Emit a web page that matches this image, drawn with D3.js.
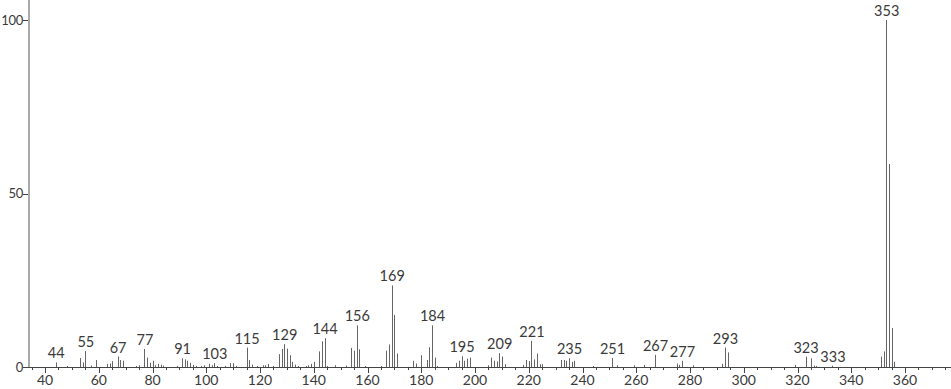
<!DOCTYPE html>
<html>
<head>
<meta charset="utf-8">
<script src="https://cdn.jsdelivr.net/npm/d3@7"></script>
<style>
  html, body { margin: 0; padding: 0; background: #fff; }
  svg { display: block; }
  text { font-family: Lato, "Noto Sans", sans-serif; fill: #3a3a3a; }
</style>
</head>
<body>
<div id="chart"></div>
<script>
// m/z values and relative intensities
const mz = [44, 48, 53, 54, 55, 57, 59, 63, 64, 65, 67, 68, 69, 74, 75, 77, 78, 79, 80, 81, 82, 83, 84, 89,
    91, 92, 93, 94, 95, 96, 98, 99, 101, 102, 103, 104, 107, 109, 110, 111, 115, 116, 117, 119, 121, 122, 123, 125,
    127, 128, 129, 130, 131, 132, 133, 134, 137, 138, 139, 140, 142, 143, 144, 145, 148, 152, 154, 155, 156, 157, 159,
    165, 167, 168, 169, 170, 171, 177, 178, 180, 182, 183, 184, 185, 186, 193, 194, 195, 196, 197, 198,
    205, 206, 207, 208, 209, 210, 211, 218, 219, 220, 221, 222, 223, 224, 225, 232, 233, 234, 235, 236, 237, 244,
    251, 253, 259, 263, 267, 275, 276, 277, 281, 292, 293, 294, 319, 323, 325, 326, 327, 333,
    351, 352, 353, 354, 355, 356];
const intensity = [1.3, 0.3, 2.6, 1.3, 4.6, 0.4, 2.0, 0.9, 1.0, 1.7, 3.0, 2.0, 1.8, 0.3, 0.5, 5.2, 2.7, 1.2, 1.8, 0.5, 0.9, 0.7, 0.4, 0.3,
    2.5, 2.2, 1.8, 1.2, 0.6, 0.3, 0.3, 0.5, 0.9, 0.5, 1.1, 0.3, 0.3, 1.1, 1.1, 0.3, 5.6, 2.0, 0.7, 0.3, 0.5, 0.5, 0.9, 0.3,
    3.7, 5.2, 6.6, 5.3, 3.4, 1.5, 0.7, 0.3, 0.3, 0.5, 0.9, 1.5, 4.5, 7.4, 8.3, 0.3, 0.5, 0.4, 5.5, 4.7, 12.0, 5.1, 0.3,
    0.3, 4.7, 6.5, 23.5, 15.0, 3.9, 1.8, 1.0, 3.4, 2.0, 5.7, 12.0, 2.7, 0.3, 1.2, 1.8, 3.1, 1.8, 2.4, 2.7,
    0.5, 2.7, 1.8, 1.6, 4.0, 3.0, 0.8, 0.6, 2.0, 1.7, 7.5, 2.2, 3.9, 0.8, 0.8, 2.0, 2.0, 1.8, 2.5, 1.5, 1.8, 0.3,
    2.6, 0.5, 0.5, 0.6, 3.5, 1.0, 0.6, 1.8, 0.5, 0.9, 5.6, 4.2, 0.6, 3.0, 2.5, 0.4, 0.3, 0.4,
    3.0, 4.5, 100, 58.5, 11.2, 1.5];
// peaks that carry an m/z label
const labelled = [44, 55, 67, 77, 91, 103, 115, 129, 144, 156, 169, 184, 195, 209, 221, 235, 251, 267, 277, 293, 323, 333, 353];
const xTicks = d3.range(40, 361, 20);
const yTicks = [0, 50, 100];

const width = 951;
const height = 389;

const peaks = mz.map((m, i) => ({ mz: m, value: intensity[i] }));

const x = d3.scaleLinear().domain([40, 360]).range([45, 905]);
const y = d3.scaleLinear().domain([0, 100]).range([367, 20]);
const x0 = 28;

const svg = d3.select('#chart')
    .append('svg')
    .attr('width', width)
    .attr('height', height);

// peaks
svg.append('g')
    .selectAll('line')
    .data(peaks)
    .enter()
    .append('line')
    .attr('x1', d => Math.round(x(d.mz)) + 0.5)
    .attr('x2', d => Math.round(x(d.mz)) + 0.5)
    .attr('y1', y(0))
    .attr('y2', d => y(d.value))
    .attr('stroke', '#666')
    .attr('stroke-width', 1);

// x axis
const xAxis = svg.append('g');
xAxis.append('line')
    .attr('x1', x0).attr('x2', width)
    .attr('y1', y(0) + 0.5).attr('y2', y(0) + 0.5)
    .attr('stroke', '#444');
xAxis.selectAll('.minor')
    .data(d3.range(35, 380, 5))
    .enter()
    .append('line')
    .attr('x1', d => Math.round(x(d)) + 0.5)
    .attr('x2', d => Math.round(x(d)) + 0.5)
    .attr('y1', y(0))
    .attr('y2', d => y(0) + (d % 20 === 0 ? 6 : 3))
    .attr('stroke', '#444');
xAxis.selectAll('text')
    .data(xTicks)
    .enter()
    .append('text')
    .attr('x', d => x(d))
    .attr('y', 385)
    .attr('text-anchor', 'middle')
    .style('font-size', '14px')
    .text(d => d);

// y axis
const yAxis = svg.append('g');
yAxis.append('line')
    .attr('x1', x0 + 1).attr('x2', x0 + 1)
    .attr('y1', 0).attr('y2', y(0))
    .attr('stroke', '#aaa')
    .attr('stroke-width', 2);
yAxis.selectAll('.tick')
    .data(yTicks)
    .enter()
    .append('line')
    .attr('x1', x0 - 5).attr('x2', x0)
    .attr('y1', d => Math.round(y(d)) + 0.5)
    .attr('y2', d => Math.round(y(d)) + 0.5)
    .attr('stroke', '#444');
yAxis.selectAll('text')
    .data(yTicks)
    .enter()
    .append('text')
    .attr('x', x0 - 5)
    .attr('y', d => y(d))
    .attr('dy', '0.35em')
    .attr('text-anchor', 'end')
    .style('font-size', '13px')
    .style('letter-spacing', '-0.3px')
    .text(d => d);

// peak labels sit just above the tallest peak under the label
function labelTop(m) {
    const near = peaks.filter(p => Math.abs(p.mz - m) <= 3);
    return y(d3.max(near, p => p.value)) - 4;
}

svg.append('g')
    .selectAll('text')
    .data(labelled)
    .enter()
    .append('text')
    .attr('x', d => x(d) + 0.5)
    .attr('y', d => labelTop(d))
    .attr('text-anchor', 'middle')
    .style('font-size', '14.5px')
    .text(d => d);
</script>
</body>
</html>
